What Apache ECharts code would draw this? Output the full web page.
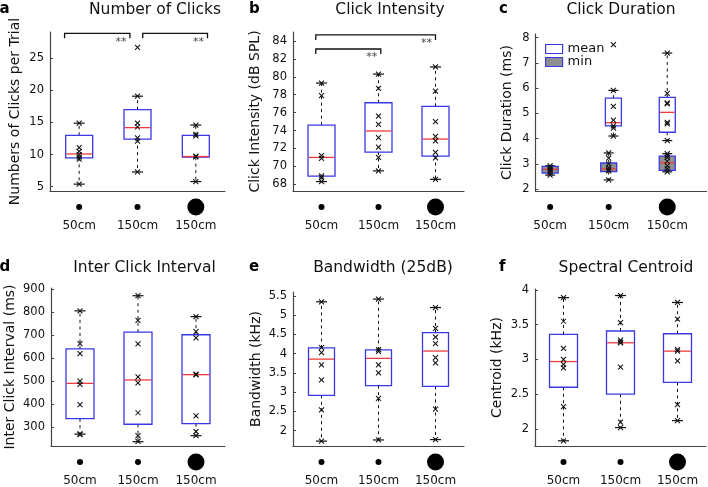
<!DOCTYPE html>
<html><head><meta charset="utf-8">
<script src="https://cdn.jsdelivr.net/npm/echarts@6/dist/echarts.min.js"></script>
<style>html,body{margin:0;padding:0;background:#fff}#c{width:708px;height:487px}</style>
</head><body><div id="c"></div>
<script>
// ---------------- data ----------------
const categories = ['50cm', '150cm', '150cm'];
const targetSize = ['small', 'small', 'large'];
const catX = [1, 2, 3];

// box rows: [lower whisker, Q1, median, Q3, upper whisker]
// (a) Number of clicks per trial
const clicksBox = [[5.4, 9.5, 10.1, 13.0, 14.9], [7.3, 12.4, 14.2, 17.0, 19.1], [5.8, 9.6, 9.7, 13.0, 14.6]];
const clicksPts = [[14.9, 11.1, 10.5, 10.0, 9.6, 9.3, 5.4], [26.7, 19.1, 14.9, 14.3, 12.6, 12.1, 7.3], [14.6, 13.15, 12.9, 9.75, 9.65, 5.8]];
const clicksSig = [[0.75, 1.87, 28.9], [2.09, 3.2, 28.9]];
const clicksTicks = [5, 10, 15, 20, 25];

// (b) Click intensity
const intensityBox = [[68.3, 68.9, 71.0, 74.6, 79.3], [69.5, 71.6, 73.95, 77.1, 80.3], [68.55, 71.15, 73.05, 76.7, 81.1]];
const intensityPts = [[79.3, 77.9, 71.2, 70.9, 68.95, 68.75, 68.3], [80.3, 78.7, 75.6, 74.7, 73.2, 72.15, 71.0, 69.5], [81.1, 78.4, 75.0, 73.35, 72.85, 71.55, 70.95, 68.55]];
const intensitySig = [[0.9, 3.0, 84.67], [0.9, 2.04, 83.1]];
const intensityTicks = [68, 70, 72, 74, 76, 78, 80, 82, 84];

// (c) Click duration: mean and min
const durMeanX = [2.08, 3.0];
const durMeanBox = [[4.1, 4.5, 4.63, 5.6, 5.91], [3.92, 4.25, 5.04, 5.63, 7.39]];
const durMeanPts = [[7.73, 5.91, 5.28, 4.73, 4.5, 4.41, 4.1], [7.39, 5.79, 5.42, 5.38, 4.64, 4.58, 3.92]];
const durMinX = [1, 2, 3];
const durMinBox = [[2.55, 2.63, 2.78, 2.9, 2.92], [2.36, 2.69, 2.79, 3.03, 3.43], [2.68, 2.74, 3.04, 3.3, 3.4]];
const durMinPts = [[2.92, 2.86, 2.8, 2.74, 2.66, 2.55], [3.43, 3.22, 3.0, 2.85, 2.77, 2.72, 2.36], [3.4, 3.33, 3.25, 3.1, 2.92, 2.8, 2.68]];
const durTicks = [2, 3, 4, 5, 6, 7, 8];

// (d) Inter click interval
const iciBox = [[269, 336, 490, 640, 806], [236, 312, 505, 713, 872], [262, 315, 528, 702, 781]];
const iciPts = [[806, 663, 620, 500, 486, 397, 270, 267], [872, 765, 662, 518, 492, 362, 262, 237], [781, 716, 688, 530, 527, 348, 280, 262]];
const iciTicks = [300, 400, 500, 600, 700, 800, 900];

// (e) Bandwidth (25dB)
const bwBox = [[1.73, 2.92, 3.86, 4.15, 5.35], [1.76, 3.17, 3.88, 4.1, 5.42], [1.77, 3.15, 4.07, 4.55, 5.2]];
const bwPts = [[5.35, 4.16, 4.03, 3.71, 3.32, 2.54, 1.73], [5.42, 4.11, 4.06, 3.71, 3.5, 2.84, 1.76], [5.2, 4.66, 4.43, 4.26, 3.9, 3.76, 2.56, 1.77]];
const bwTicks = [2, 2.5, 3, 3.5, 4, 4.5, 5, 5.5];

// (f) Spectral centroid
const centBox = [[1.83, 2.6, 2.97, 3.36, 3.89], [2.02, 2.5, 3.24, 3.41, 3.92], [2.12, 2.67, 3.12, 3.37, 3.82]];
const centPts = [[3.89, 3.55, 3.16, 3.0, 2.93, 2.88, 2.32, 1.83], [3.92, 3.53, 3.28, 3.25, 3.24, 2.89, 2.1, 2.02], [3.82, 3.58, 3.14, 3.12, 2.98, 2.35, 2.12]];
const centTicks = [2, 2.5, 3, 3.5, 4];

// ---------------- styling / layout ----------------
const FONT = 'DejaVu Sans';
const BLUE = '#3838e8';
const RED = '#ee3b3b';
const INK = '#111';

const panels = [
  { letter: 'a', title: 'Number of Clicks', titleX: 155, letterX: -0.5, rowY: 9.5,
    grid: { left: 50, top: 32, width: 175, height: 159 }, x: [0.5, 3.5], y: [4.33, 29.1], ticks: clicksTicks,
    yName: 'Numbers of Clicks per Trial', nameGap: 28,
    boxes: [{ xs: catX, rows: clicksBox, pts: clicksPts }], sig: clicksSig, hw: 13.5, cw: 5.5 },
  { letter: 'b', title: 'Click Intensity', titleX: 390, letterX: 249, rowY: 9.5,
    grid: { left: 293, top: 32, width: 171, height: 159 }, x: [0.5, 3.5], y: [67.25, 85.0], ticks: intensityTicks,
    yName: 'Click Intensity (dB SPL)', nameGap: 31,
    boxes: [{ xs: catX, rows: intensityBox, pts: intensityPts }], sig: intensitySig, hw: 13.5, cw: 5.5 },
  { letter: 'c', title: 'Click Duration', titleX: 621, letterX: 499, rowY: 9.5,
    grid: { left: 535.5, top: 34, width: 171, height: 157 }, x: [0.75, 3.67], y: [1.92, 8.147], ticks: durTicks,
    yName: 'Click Duration (ms)', nameGap: 21,
    boxes: [{ name: 'min', xs: durMinX, rows: durMinBox, pts: durMinPts, fill: '#8f8f8f' },
            { name: 'mean', xs: durMeanX, rows: durMeanBox, pts: durMeanPts }], hw: 8, cw: 5 },
  { letter: 'd', title: 'Inter Click Interval', titleX: 144.5, letterX: -0.5, rowY: 268,
    grid: { left: 51, top: 288, width: 174, height: 158 }, x: [0.5, 3.5], y: [217.1, 905.7], ticks: iciTicks,
    yName: 'Inter Click Interval (ms)', nameGap: 34,
    boxes: [{ xs: catX, rows: iciBox, pts: iciPts }], hw: 14, cw: 5.5 },
  { letter: 'e', title: 'Bandwidth (25dB)', titleX: 383, letterX: 249, rowY: 268,
    grid: { left: 293, top: 292, width: 171, height: 154 }, x: [0.5, 3.5], y: [1.603, 5.604], ticks: bwTicks,
    yName: 'Bandwidth (kHz)', nameGap: 30,
    boxes: [{ xs: catX, rows: bwBox, pts: bwPts }], hw: 13, cw: 5.5 },
  { letter: 'f', title: 'Spectral Centroid', titleX: 626, letterX: 499, rowY: 268,
    grid: { left: 535, top: 289, width: 171, height: 157 }, x: [0.5, 3.5], y: [1.755, 4.014], ticks: centTicks,
    yName: 'Centroid (kHz)', nameGap: 31,
    boxes: [{ xs: catX, rows: centBox, pts: centPts }], hw: 14, cw: 5.5 }
];

// ---------------- renderers ----------------
function boxRenderer(hw, cw, fill) {
  return function (params, api) {
    const x = api.value(0);
    const p = [1, 2, 3, 4, 5].map(i => api.coord([x, api.value(i)]));
    const cx = p[2][0];
    const dash = { stroke: INK, lineWidth: 1, lineDash: [3, 3.5], fill: 'none' };
    const solid = { stroke: INK, lineWidth: 1.2, fill: 'none' };
    return { type: 'group', children: [
      { type: 'line', shape: { x1: cx, y1: p[3][1], x2: cx, y2: p[4][1] }, style: dash },
      { type: 'line', shape: { x1: cx, y1: p[1][1], x2: cx, y2: p[0][1] }, style: dash },
      { type: 'line', shape: { x1: cx - cw, y1: p[4][1], x2: cx + cw, y2: p[4][1] }, style: solid },
      { type: 'line', shape: { x1: cx - cw, y1: p[0][1], x2: cx + cw, y2: p[0][1] }, style: solid },
      { type: 'rect', shape: { x: cx - hw, y: p[3][1], width: 2 * hw, height: p[1][1] - p[3][1] },
        style: { fill: fill || 'none', stroke: BLUE, lineWidth: 1.3 } },
      { type: 'line', shape: { x1: cx - hw + 0.6, y1: p[2][1], x2: cx + hw - 0.6, y2: p[2][1] },
        style: { stroke: RED, lineWidth: 1.3, fill: 'none' } }
    ] };
  };
}
function crossRenderer(params, api) {
  const p = api.coord([api.value(0), api.value(1)]);
  const s = 2.5;
  const st = { stroke: INK, lineWidth: 1.05, fill: 'none' };
  return { type: 'group', children: [
    { type: 'line', shape: { x1: p[0] - s, y1: p[1] - s, x2: p[0] + s, y2: p[1] + s }, style: st },
    { type: 'line', shape: { x1: p[0] - s, y1: p[1] + s, x2: p[0] + s, y2: p[1] - s }, style: st }
  ] };
}
function sigRenderer(params, api) {
  const a = api.coord([api.value(0), api.value(2)]);
  const b = api.coord([api.value(1), api.value(2)]);
  return { type: 'group', children: [
    { type: 'polyline', shape: { points: [[a[0], a[1] + 5], [a[0], a[1]], [b[0], b[1]], [b[0], b[1] + 5]] },
      style: { stroke: INK, lineWidth: 1.3, fill: 'none' } },
    { type: 'text', style: { text: '**', x: b[0] - 9, y: b[1] + 8.5, align: 'center', verticalAlign: 'middle',
      fontSize: 11, fontFamily: FONT, fill: '#444' } }
  ] };
}

// ---------------- build option ----------------
const grid = [], xAxis = [], yAxis = [], series = [], graphic = [];
panels.forEach((pn, i) => {
  grid.push(Object.assign({ containLabel: false }, pn.grid));
  xAxis.push({
    type: 'value', gridIndex: i, min: pn.x[0], max: pn.x[1],
    axisLine: { show: true, onZero: false, lineStyle: { color: '#444', width: 1.2 } },
    axisTick: { show: false }, splitLine: { show: false },
    axisLabel: {
      customValues: catX, margin: 6,
      formatter: (v) => {
        const k = Math.round(v) - 1;
        return '{' + (targetSize[k] === 'large' ? 'dl' : 'ds') + '| }\n{t|' + categories[k] + '}';
      },
      rich: {
        ds: { width: 6, height: 6, borderRadius: 3, backgroundColor: '#000', lineHeight: 20 },
        dl: { width: 17, height: 17, borderRadius: 8.5, backgroundColor: '#000', lineHeight: 20 },
        t: { fontSize: 12, fontFamily: FONT, color: INK, lineHeight: 18 }
      }
    }
  });
  yAxis.push({
    type: 'value', gridIndex: i, min: pn.y[0], max: pn.y[1],
    axisLine: { show: true, lineStyle: { color: '#444', width: 1.2 } },
    axisTick: { show: true, inside: true, length: 3, customValues: pn.ticks, lineStyle: { color: '#444' } },
    axisLabel: { customValues: pn.ticks, fontSize: 11.5, fontFamily: FONT, color: INK, margin: 6 },
    splitLine: { show: false },
    name: pn.yName, nameLocation: 'middle', nameGap: pn.nameGap,
    nameTextStyle: { fontSize: 14, fontFamily: FONT, color: INK }
  });
  pn.boxes.forEach((bx) => {
    series.push({
      type: 'custom', name: bx.name || ('box' + i), xAxisIndex: i, yAxisIndex: i, silent: true, z: 2,
      renderItem: boxRenderer(pn.hw, pn.cw, bx.fill),
      data: bx.rows.map((r, k) => [bx.xs[k]].concat(r))
    });
  });
  pn.boxes.forEach((bx, j) => {
    const d = [];
    bx.pts.forEach((arr, k) => arr.forEach(v => d.push([bx.xs[k], v])));
    series.push({
      type: 'custom', name: 'pts' + i + '_' + j, xAxisIndex: i, yAxisIndex: i, silent: true, z: 4,
      renderItem: crossRenderer, data: d
    });
  });
  if (pn.sig) {
    series.push({
      type: 'custom', name: 'sig' + i, xAxisIndex: i, yAxisIndex: i, silent: true, z: 3,
      renderItem: sigRenderer, data: pn.sig
    });
  }
  graphic.push({ type: 'text', x: pn.letterX, y: pn.rowY - 0.5,
    style: { text: pn.letter, fontSize: 15, fontWeight: 'bold', fontFamily: FONT, fill: '#000', align: 'left', verticalAlign: 'middle' } });
  graphic.push({ type: 'text', x: pn.titleX, y: pn.rowY,
    style: { text: pn.title, fontSize: 15.5, fontFamily: FONT, fill: INK, align: 'center', verticalAlign: 'middle' } });
});

const option = {
  animation: false,
  backgroundColor: '#fff',
  textStyle: { fontFamily: FONT },
  grid, xAxis, yAxis, series, graphic,
  legend: {
    orient: 'vertical', left: 540, top: 37.5, itemWidth: 17, itemHeight: 9, itemGap: 0,
    selectedMode: false,
    textStyle: { fontSize: 13, fontFamily: FONT, color: INK },
    data: [
      { name: 'mean', icon: 'rect', itemStyle: { color: '#fff', borderColor: BLUE, borderWidth: 1.2 } },
      { name: 'min', icon: 'rect', itemStyle: { color: '#8f8f8f', borderColor: BLUE, borderWidth: 1.2 } }
    ]
  }
};

const chart = echarts.init(document.getElementById('c'), null, { renderer: 'canvas' });
chart.setOption(option);
</script></body></html>
